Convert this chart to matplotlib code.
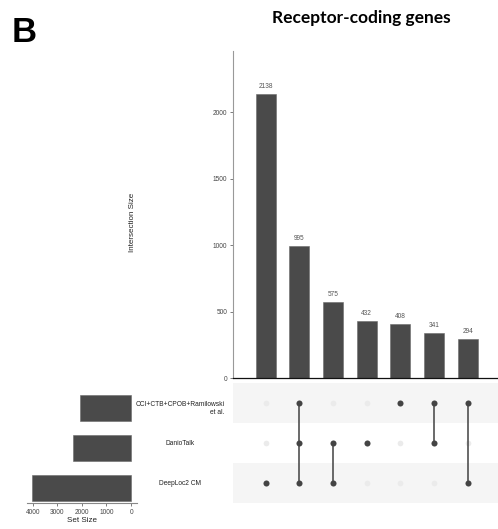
import numpy as np
import matplotlib
matplotlib.use("Agg")
from matplotlib import pyplot as plt
from matplotlib import transforms

plt.rcParams['font.family'] = ['Liberation Sans', 'DejaVu Sans']

# set names, bottom row first
set_names = ['DeepLoc2 CM', 'DanioTalk', 'CCI+CTB+CPOB+Ramilowski\net al.']
set_sizes = [4040, 2380, 2080]

# intersections, largest first; each lists the set rows it contains
inter_sizes = [2138, 995, 575, 432, 408, 341, 294]
inter_members = [[0], [0, 1, 2], [0, 1], [1], [2], [1, 2], [0, 2]]

bar_col = '#4a4a4a'
x = np.arange(len(inter_sizes))

fig = plt.figure(figsize=(4.98, 5.29), dpi=100)

# intersection size bars
ax_bar = fig.add_axes([0.468, 0.2854, 0.532, 0.6182])
ax_bar.bar(x, inter_sizes, width=0.6, color=bar_col, edgecolor='#6a6a6a', linewidth=0.4)
for xi, v in zip(x, inter_sizes):
    ax_bar.text(xi, v + 30, str(v), ha='center', va='bottom', fontsize=4.7, color='#555555')
ax_bar.set_xlim(-0.97, 6.9)
ax_bar.set_ylim(0, 2459)
ax_bar.set_yticks([0, 500, 1000, 1500, 2000])
ax_bar.set_xticks([])
ax_bar.tick_params(axis='y', length=2.5, width=0.6, color='#666666', labelsize=4.7,
                   labelcolor='#444444', pad=1.5)
for s in ['top', 'right']:
    ax_bar.spines[s].set_visible(False)
ax_bar.spines['left'].set_color('#999999')
ax_bar.spines['left'].set_linewidth(0.8)
ax_bar.spines['bottom'].set_color('#111111')
ax_bar.spines['bottom'].set_linewidth(0.9)
fig.text(132 / 498, 1 - 222 / 529, 'Intersection Size', rotation=90, ha='center', va='center',
         fontsize=5.8, color='#222222')

# set size bars
ax_s = fig.add_axes([0.0542, 0.0491, 0.2209, 0.2268])
ax_s.patch.set_visible(False)
ax_s.barh(np.arange(len(set_sizes)), set_sizes, height=0.66, color=bar_col,
          edgecolor='#6a6a6a', linewidth=0.4)
ax_s.set_xlim(4230, -240)
ax_s.set_ylim(-0.375, 2.625)
ax_s.set_xticks([4000, 3000, 2000, 1000, 0])
ax_s.set_yticks([])
ax_s.tick_params(axis='x', length=2.5, width=0.6, color='#666666', labelsize=4.7,
                 labelcolor='#444444', pad=1.5)
for s in ['top', 'right', 'left']:
    ax_s.spines[s].set_visible(False)
ax_s.spines['bottom'].set_color('#888888')
ax_s.spines['bottom'].set_linewidth(0.8)
ax_s.set_xlabel('Set Size', fontsize=5.8, color='#222222', labelpad=1)

# dot matrix
ax_m = fig.add_axes([0.468, 0.0491, 0.532, 0.2268])
ax_m.set_xlim(-0.97, 6.9)
ax_m.set_ylim(-0.5, 2.5)
for r in [0, 2]:
    ax_m.axhspan(r - 0.5, r + 0.5, color='#f5f5f5', lw=0, zorder=0)
xx, yy = np.meshgrid(x, np.arange(len(set_names)))
ax_m.scatter(xx.ravel(), yy.ravel(), s=17, color='#ebebeb', lw=0, zorder=1)
for xi, rows in zip(x, inter_members):
    if len(rows) > 1:
        ax_m.plot([xi, xi], [min(rows), max(rows)], color='#505050', lw=1.2, zorder=2)
    ax_m.scatter([xi] * len(rows), rows, s=19, color='#444444', lw=0, zorder=3)
ax_m.axis('off')

# set labels, between the set bars and the matrix
tr = transforms.blended_transform_factory(fig.transFigure, ax_m.transData)
for r, name in enumerate(set_names):
    yoff = -0.14 if '\n' in name else 0
    ax_m.text(180 / 498, r + yoff, name, transform=tr, ha='center', va='center',
              multialignment='right', fontsize=4.8, color='#222222', linespacing=1.3,
              clip_on=False)

fig.text(12 / 498, 1 - 42 / 529, 'B', fontsize=25, fontweight='bold', ha='left', va='baseline')
fig.text(361 / 498, 1 - 18 / 529, 'Receptor-coding genes', family=['Lato', 'DejaVu Sans'],
         fontsize=12.5, fontweight='bold', ha='center', va='center')

fig.savefig('out.png', dpi=100)
